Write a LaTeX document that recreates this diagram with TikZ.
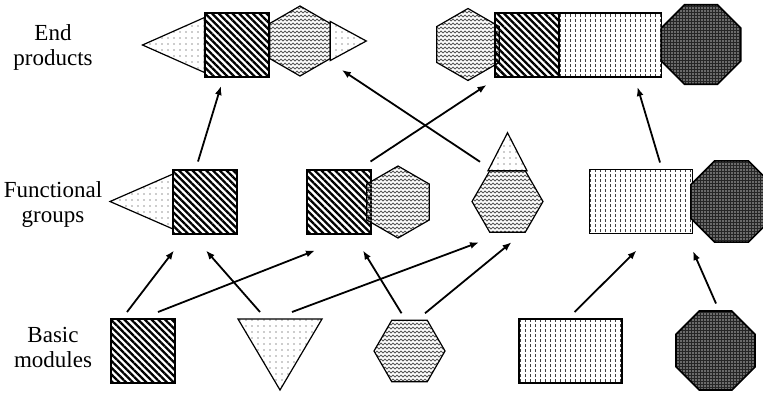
\documentclass[tikz,border=0pt]{standalone}
\usepackage{fontspec}
\setmainfont{Liberation Serif}
\usetikzlibrary{shapes.geometric,patterns.meta,arrows.meta,calc}

\tikzdeclarepattern{name=waves, type=uncolored,
  bottom left={(0pt,-1pt)}, top right={(2pt,1pt)}, tile size={(2pt,2pt)},
  code={\draw[line width=.45pt] (0pt,0pt) sin (.5pt,.45pt) cos (1pt,0pt)
    sin (1.5pt,-.45pt) cos (2pt,0pt);}}
\tikzdeclarepattern{name=vdashes, type=uncolored,
  bottom left={(-.5pt,0pt)}, top right={(.5pt,2.5pt)}, tile size={(2.5pt,2.5pt)},
  code={\draw[line width=.45pt] (0pt,0pt) -- (0pt,1.5pt);}}

\begin{document}
\begin{tikzpicture}[x=0.5pt, y=-0.5pt,
    every node/.style={inner sep=0pt, outer sep=0pt},
    sq/.style={draw, line width=1pt, rectangle, minimum width=32pt,
        minimum height=32pt,
        pattern={Lines[angle=-45,distance=2.4pt,line width=1.15pt]}},
    tri/.style={draw, line width=.6pt, isosceles triangle,
        isosceles triangle stretches,
        pattern={Dots[distance=3pt,radius=.35pt]}, pattern color=black!85},
    hexa/.style={draw, line width=.6pt, regular polygon,
        regular polygon sides=6, minimum size=36pt,
        pattern=waves, pattern color=black!65},
    dashrect/.style={draw, line width=.8pt, rectangle, minimum width=51.5pt,
        minimum height=32pt, pattern=vdashes, pattern color=black!75},
    octa/.style={draw, line width=.8pt, regular polygon,
        regular polygon sides=8, minimum size=43pt,
        preaction={fill=black!85},
        pattern={Dots[distance=1.5pt,radius=.4pt]}, pattern color=black!30},
    lbl/.style={align=center, font=\fontsize{11.5}{12.5}\selectfont},
    arr/.style={-{Latex[length=4.5pt,width=3.5pt]}, line width=.9pt}]
  \useasboundingbox (0,0) rectangle (763,392);
  \clip (0,0) rectangle (763,392);
  % end products
  \node (lend) [lbl] at (53,47) {End\\products};
  \node (psq1) [sq] at (236.5,45) {};
  \node (ptri1) [tri, shape border rotate=180, minimum width=27.5pt,
      minimum height=31pt, anchor=lower side] at (psq1.west) {};
  \node (phex1) [hexa, shape border rotate=30, minimum size=35pt] at (300,41) {};
  \node (ptri2) [tri, minimum width=19.5pt, minimum height=18pt,
      anchor=lower side] at (phex1.east) {};
  \node (phex2) [hexa, shape border rotate=30] at (468,44.5) {};
  \node (psq2) [sq] at (527,45) {};
  \node (prect2) [dashrect] at (610,45) {};
  \node (poct2) [octa] at (701,44.5) {};
  % functional groups
  \node (lfun) [lbl] at (53,204.5) {Functional\\groups};
  \node (gsq1) [sq] at (205,201.5) {};
  \node (gtri1) [tri, shape border rotate=180, minimum width=27.5pt,
      minimum height=31.5pt, anchor=lower side] at (gsq1.west) {};
  \node (gsq2) [sq] at (338.5,201.5) {};
  \node (ghex2) [hexa, shape border rotate=30] at (398,202) {};
  \node (ghex3) [hexa, minimum size=35.5pt] at (507.5,201.5) {};
  \node (gtri3) [tri, shape border rotate=90, minimum width=19.5pt,
      minimum height=19pt, anchor=lower side] at (ghex3.north) {};
  \node (grect4) [dashrect] at (641,201.5) {};
  \node (goct4) [octa, minimum size=44pt] at (731.5,201.5) {};
  % basic modules
  \node (lbas) [lbl] at (53,347.5) {Basic\\modules};
  \node (bsq) [sq] at (143,351) {};
  \node (btri) [tri, shape border rotate=270, minimum width=42pt,
      minimum height=35.5pt, anchor=lower side] at (280,319) {};
  \node (bhex) [hexa, minimum size=35.5pt] at (409.5,351) {};
  \node (brect) [dashrect] at (570.5,351) {};
  \node (boct) [octa, minimum size=42.75pt] at (715.5,350.5) {};
  % basic modules -> functional groups
  \draw[arr] ($(bsq.north)+(-16,-7)$) -- ($(gsq1.south)+(-31,17)$);
  \draw[arr] ($(bsq.north)+(15,-7)$) -- ($(gsq2.south)+(-23.5,17)$);
  \draw[arr] ($(btri.lower side)+(-20,-7)$) -- ($(gsq1.south)+(1,17)$);
  \draw[arr] ($(btri.lower side)+(12,-7)$) -- ($(ghex3.south)+(-28.5,10)$);
  \draw[arr] ($(bhex.north)+(-8,-7)$) -- ($(gsq2.south)+(24.5,17)$);
  \draw[arr] ($(bhex.north)+(15.5,-7)$) -- ($(ghex3.south)+(4,10)$);
  \draw[arr] ($(brect.north)+(4,-7)$) -- ($(grect4.south)+(-4.5,17)$);
  \draw[arr] ($(boct.north)+(0.5,-7.5)$) -- ($(goct4.south)+(-38.5,9)$);
  % functional groups -> end products
  \draw[arr] ($(gsq1.north)+(-7,-8)$) -- ($(psq1.south)+(-15.5,9)$);
  \draw[arr] ($(gsq2.north)+(32,-8)$) -- ($(phex2.south)+(18.5,4.5)$);
  \draw[arr] ($(ghex3.north)+(-27.5,-9)$) -- ($(ptri2.lower side)+(11.5,29)$);
  \draw[arr] ($(grect4.north)+(19,-7)$) -- ($(prect2.south)+(27.5,10)$);
\end{tikzpicture}
\end{document}
